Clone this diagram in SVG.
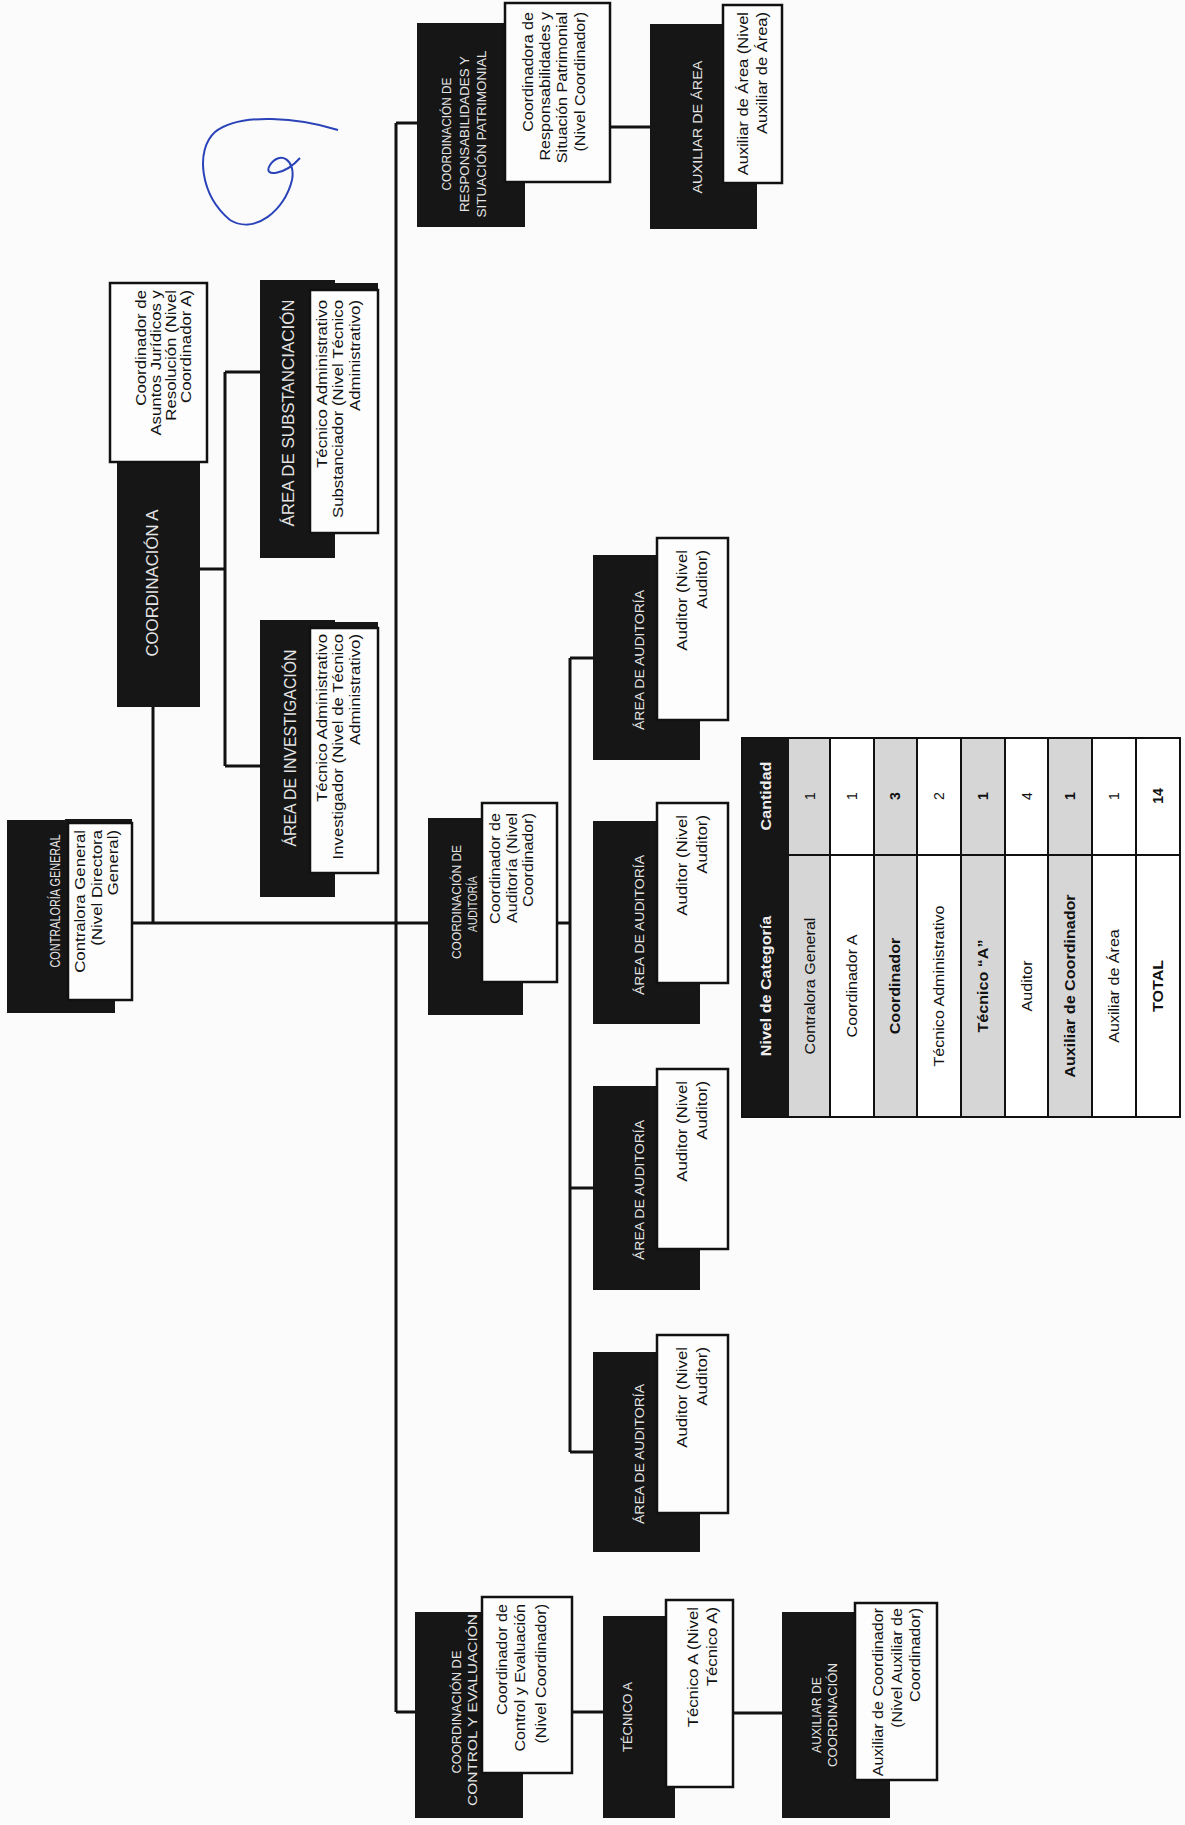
<svg xmlns="http://www.w3.org/2000/svg" width="1185" height="1825" viewBox="0 0 1185 1825">
<style>
.dk{fill:#161616}
.wb{fill:#fdfdfd;stroke:#111;stroke-width:2.5}
.ln{stroke:#111;stroke-width:3;fill:none}
.t{font-family:"Liberation Sans",Arial,sans-serif;fill:#e4e4e4;text-anchor:middle}
.w{font-family:"Liberation Sans",Arial,sans-serif;font-size:14px;fill:#111;text-anchor:end}
.c{font-family:"Liberation Sans",Arial,sans-serif;font-size:14px;fill:#111;text-anchor:middle}
.b{font-weight:bold}
</style>
<rect x="0" y="0" width="1185" height="1825" fill="#fbfbfb"/>

<g id="connectors">
<path class="ln" d="M132,923 H428"/>
<path class="ln" d="M153,707 V923"/>
<path class="ln" d="M200,569 H225 M225,372 V766 M225,372 H260 M225,766 H260"/>
<path class="ln" d="M396,123 V1712 M396,123 H417 M396,1712 H415"/>
<path class="ln" d="M610,127 H650"/>
<path class="ln" d="M557,923 H570 M570,658 V1452 M570,658 H593 M570,1188 H593 M570,1452 H593"/>
<path class="ln" d="M572,1712 H603"/>
<path class="ln" d="M733,1713 H782"/>
</g>

<g id="n-contraloria">
<rect class="dk" x="7" y="820" width="108" height="193"/>
<rect class="dk" x="65" y="819" width="67" height="178"/>
<rect class="wb" x="68" y="823" width="64" height="177"/>
<text class="t" font-size="14" textLength="133" lengthAdjust="spacingAndGlyphs" transform="translate(60,901) rotate(-90)">CONTRALORÍA GENERAL</text>
<text class="w" transform="translate(85,830) rotate(-90) scale(1.2,1)">Contralora General</text>
<text class="w" transform="translate(102,830) rotate(-90) scale(1.2,1)">(Nivel Directora</text>
<text class="w" transform="translate(118,830) rotate(-90) scale(1.2,1)">General)</text>
</g>

<g id="n-coordinacion-a">
<rect class="dk" x="117" y="283" width="83" height="424"/>
<rect class="wb" x="110" y="283" width="97" height="179"/>
<text class="t" font-size="16" textLength="147" lengthAdjust="spacingAndGlyphs" transform="translate(158,583) rotate(-90)">COORDINACIÓN A</text>
<text class="w" font-size="13" transform="translate(146,290) rotate(-90) scale(1.2,1)">Coordinador de</text>
<text class="w" font-size="13" transform="translate(161,290) rotate(-90) scale(1.2,1)">Asuntos Jurídicos y</text>
<text class="w" font-size="13" transform="translate(176,290) rotate(-90) scale(1.2,1)">Resolución (Nivel</text>
<text class="w" font-size="13" transform="translate(191,290) rotate(-90) scale(1.2,1)">Coordinador A)</text>
</g>

<g id="n-substanciacion">
<rect class="dk" x="260" y="280" width="75" height="278"/>
<rect class="dk" x="307" y="283" width="71" height="246"/>
<rect class="wb" x="310" y="290" width="68" height="243"/>
<text class="t" font-size="17" textLength="227" lengthAdjust="spacingAndGlyphs" transform="translate(294,413) rotate(-90)">ÁREA DE SUBSTANCIACIÓN</text>
<text class="w" transform="translate(327,300) rotate(-90) scale(1.2,1)">Técnico Administrativo</text>
<text class="w" transform="translate(343,300) rotate(-90) scale(1.2,1)">Substanciador (Nivel Técnico</text>
<text class="w" transform="translate(360,300) rotate(-90) scale(1.2,1)">Administrativo)</text>
</g>

<g id="n-investigacion">
<rect class="dk" x="260" y="620" width="75" height="277"/>
<rect class="dk" x="307" y="622" width="71" height="247"/>
<rect class="wb" x="310" y="628" width="68" height="245"/>
<text class="t" font-size="17" textLength="197" lengthAdjust="spacingAndGlyphs" transform="translate(296,748) rotate(-90)">ÁREA DE INVESTIGACIÓN</text>
<text class="w" transform="translate(327,634) rotate(-90) scale(1.2,1)">Técnico Administrativo</text>
<text class="w" transform="translate(343,634) rotate(-90) scale(1.2,1)">Investigador (Nivel de Técnico</text>
<text class="w" transform="translate(360,634) rotate(-90) scale(1.2,1)">Administrativo)</text>
</g>

<g id="n-coord-resp">
<rect class="dk" x="417" y="23" width="108" height="204"/>
<rect class="wb" x="505" y="3" width="105" height="179"/>
<text class="t" font-size="13" textLength="113" lengthAdjust="spacingAndGlyphs" transform="translate(451,134) rotate(-90)">COORDINACIÓN DE</text>
<text class="t" font-size="13" textLength="156" lengthAdjust="spacingAndGlyphs" transform="translate(469,134) rotate(-90)">RESPONSABILIDADES Y</text>
<text class="t" font-size="13" textLength="167" lengthAdjust="spacingAndGlyphs" transform="translate(486,134) rotate(-90)">SITUACIÓN PATRIMONIAL</text>
<text class="w" transform="translate(533,12) rotate(-90) scale(1.15,1)">Coordinadora de</text>
<text class="w" transform="translate(550,12) rotate(-90) scale(1.15,1)">Responsabilidades y</text>
<text class="w" transform="translate(567,12) rotate(-90) scale(1.15,1)">Situación Patrimonial</text>
<text class="w" transform="translate(585,12) rotate(-90) scale(1.15,1)">(Nivel Coordinador)</text>
</g>

<g id="n-aux-area">
<rect class="dk" x="650" y="24" width="107" height="205"/>
<rect class="wb" x="723" y="5" width="59" height="178"/>
<text class="t" font-size="13" textLength="133" lengthAdjust="spacingAndGlyphs" transform="translate(702,127) rotate(-90)">AUXILIAR DE ÁREA</text>
<text class="w" transform="translate(748,12) rotate(-90) scale(1.18,1)">Auxiliar de Área (Nivel</text>
<text class="w" transform="translate(767,12) rotate(-90) scale(1.18,1)">Auxiliar de Área)</text>
</g>

<g id="n-coord-auditoria">
<rect class="dk" x="428" y="818" width="95" height="197"/>
<rect class="wb" x="482" y="803" width="75" height="179"/>
<text class="t" font-size="13" textLength="114" lengthAdjust="spacingAndGlyphs" transform="translate(461,902) rotate(-90)">COORDINACIÓN DE</text>
<text class="t" font-size="13" textLength="56" lengthAdjust="spacingAndGlyphs" transform="translate(477,904) rotate(-90)">AUDITORÍA</text>
<text class="w" transform="translate(500,813) rotate(-90) scale(1.15,1)">Coordinador de</text>
<text class="w" transform="translate(517,813) rotate(-90) scale(1.15,1)">Auditoría (Nivel</text>
<text class="w" transform="translate(533,813) rotate(-90) scale(1.15,1)">Coordinador)</text>
</g>

<g id="n-area-auditoria-1">
<rect class="dk" x="593" y="555" width="107" height="205"/>
<rect class="wb" x="657" y="538" width="71" height="182"/>
<text class="t" font-size="13" textLength="140" lengthAdjust="spacingAndGlyphs" transform="translate(644,660) rotate(-90)">ÁREA DE AUDITORÍA</text>
<text class="w" font-size="15" transform="translate(687,550) rotate(-90) scale(1.2,1)">Auditor (Nivel</text>
<text class="w" font-size="15" transform="translate(707,550) rotate(-90) scale(1.2,1)">Auditor)</text>
</g>

<g id="n-area-auditoria-2">
<rect class="dk" x="593" y="821" width="107" height="203"/>
<rect class="wb" x="657" y="803" width="71" height="180"/>
<text class="t" font-size="13" textLength="140" lengthAdjust="spacingAndGlyphs" transform="translate(644,925) rotate(-90)">ÁREA DE AUDITORÍA</text>
<text class="w" font-size="15" transform="translate(687,815) rotate(-90) scale(1.2,1)">Auditor (Nivel</text>
<text class="w" font-size="15" transform="translate(707,815) rotate(-90) scale(1.2,1)">Auditor)</text>
</g>

<g id="n-area-auditoria-3">
<rect class="dk" x="593" y="1086" width="107" height="204"/>
<rect class="wb" x="657" y="1069" width="71" height="180"/>
<text class="t" font-size="13" textLength="140" lengthAdjust="spacingAndGlyphs" transform="translate(644,1190) rotate(-90)">ÁREA DE AUDITORÍA</text>
<text class="w" font-size="15" transform="translate(687,1081) rotate(-90) scale(1.2,1)">Auditor (Nivel</text>
<text class="w" font-size="15" transform="translate(707,1081) rotate(-90) scale(1.2,1)">Auditor)</text>
</g>

<g id="n-area-auditoria-4">
<rect class="dk" x="593" y="1352" width="107" height="200"/>
<rect class="wb" x="657" y="1335" width="71" height="178"/>
<text class="t" font-size="13" textLength="140" lengthAdjust="spacingAndGlyphs" transform="translate(644,1454) rotate(-90)">ÁREA DE AUDITORÍA</text>
<text class="w" font-size="15" transform="translate(687,1347) rotate(-90) scale(1.2,1)">Auditor (Nivel</text>
<text class="w" font-size="15" transform="translate(707,1347) rotate(-90) scale(1.2,1)">Auditor)</text>
</g>

<g id="n-coord-control">
<rect class="dk" x="415" y="1612" width="108" height="206"/>
<rect class="wb" x="482" y="1597" width="90" height="176"/>
<text class="t" font-size="13" textLength="123" lengthAdjust="spacingAndGlyphs" transform="translate(461,1712) rotate(-90)">COORDINACIÓN DE</text>
<text class="t" font-size="13" textLength="192" lengthAdjust="spacingAndGlyphs" transform="translate(477,1710) rotate(-90)">CONTROL Y EVALUACIÓN</text>
<text class="w" transform="translate(507,1604) rotate(-90) scale(1.15,1)">Coordinador de</text>
<text class="w" transform="translate(525,1604) rotate(-90) scale(1.15,1)">Control y Evaluación</text>
<text class="w" transform="translate(546,1604) rotate(-90) scale(1.15,1)">(Nivel Coordinador)</text>
</g>

<g id="n-tecnico-a">
<rect class="dk" x="603" y="1616" width="72" height="202"/>
<rect class="wb" x="666" y="1600" width="67" height="187"/>
<text class="t" font-size="13" transform="translate(632,1717) rotate(-90)">TÉCNICO A</text>
<text class="w" font-size="15" transform="translate(698,1607) rotate(-90) scale(1.2,1)">Técnico A (Nivel</text>
<text class="w" font-size="15" transform="translate(717,1607) rotate(-90) scale(1.2,1)">Técnico A)</text>
</g>

<g id="n-aux-coord">
<rect class="dk" x="782" y="1612" width="108" height="206"/>
<rect class="wb" x="855" y="1603" width="82" height="177"/>
<text class="t" font-size="13" textLength="76" lengthAdjust="spacingAndGlyphs" transform="translate(821,1715) rotate(-90)">AUXILIAR DE</text>
<text class="t" font-size="13" textLength="104" lengthAdjust="spacingAndGlyphs" transform="translate(837,1715) rotate(-90)">COORDINACIÓN</text>
<text class="w" transform="translate(883,1608) rotate(-90) scale(1.15,1)">Auxiliar de Coordinador</text>
<text class="w" transform="translate(902,1608) rotate(-90) scale(1.15,1)">(Nivel Auxiliar de</text>
<text class="w" transform="translate(920,1608) rotate(-90) scale(1.15,1)">Coordinador)</text>
</g>

<g id="table">
<rect x="742" y="738" width="438" height="379" fill="#fff"/>
<rect x="742" y="738" width="47" height="379" fill="#161616"/>
<rect x="789" y="738" width="41" height="379" fill="#d6d6d6"/>
<rect x="874" y="738" width="43" height="379" fill="#d6d6d6"/>
<rect x="961" y="738" width="44" height="379" fill="#d6d6d6"/>
<rect x="1048" y="738" width="44" height="379" fill="#d6d6d6"/>
<path d="M830,738 V1117 M874,738 V1117 M917,738 V1117 M961,738 V1117 M1005,738 V1117 M1048,738 V1117 M1092,738 V1117 M1136,738 V1117 M789,855 H1180" stroke="#111" stroke-width="2" fill="none"/>
<rect x="742" y="738" width="438" height="379" fill="none" stroke="#111" stroke-width="2"/>
<text class="c b" style="fill:#eee" transform="translate(771,986) rotate(-90) scale(1.15,1)">Nivel de Categoría</text>
<text class="c b" style="fill:#eee" transform="translate(771,796) rotate(-90) scale(1.15,1)">Cantidad</text>
<text class="c" transform="translate(815,986) rotate(-90) scale(1.15,1)">Contralora General</text>
<text class="c" transform="translate(815,796) rotate(-90)">1</text>
<text class="c" transform="translate(857,986) rotate(-90) scale(1.15,1)">Coordinador A</text>
<text class="c" transform="translate(857,796) rotate(-90)">1</text>
<text class="c b" transform="translate(900,986) rotate(-90) scale(1.15,1)">Coordinador</text>
<text class="c b" transform="translate(900,796) rotate(-90)">3</text>
<text class="c" transform="translate(944,986) rotate(-90) scale(1.15,1)">Técnico Administrativo</text>
<text class="c" transform="translate(944,796) rotate(-90)">2</text>
<text class="c b" transform="translate(988,986) rotate(-90) scale(1.15,1)">Técnico “A”</text>
<text class="c b" transform="translate(988,796) rotate(-90)">1</text>
<text class="c" transform="translate(1032,986) rotate(-90) scale(1.15,1)">Auditor</text>
<text class="c" transform="translate(1032,796) rotate(-90)">4</text>
<text class="c b" transform="translate(1075,986) rotate(-90) scale(1.15,1)">Auxiliar de Coordinador</text>
<text class="c b" transform="translate(1075,796) rotate(-90)">1</text>
<text class="c" transform="translate(1119,986) rotate(-90) scale(1.15,1)">Auxiliar de Área</text>
<text class="c" transform="translate(1119,796) rotate(-90)">1</text>
<text class="c b" transform="translate(1163,986) rotate(-90) scale(1.15,1)">TOTAL</text>
<text class="c b" transform="translate(1163,796) rotate(-90)">14</text>
</g>

<path d="M338,130 C300,118 240,112 215,132 C195,150 200,195 230,220 C255,235 285,210 292,180 C296,160 280,150 270,165 C262,178 285,175 300,158" fill="none" stroke="#2a43b8" stroke-width="2"/>
</svg>
